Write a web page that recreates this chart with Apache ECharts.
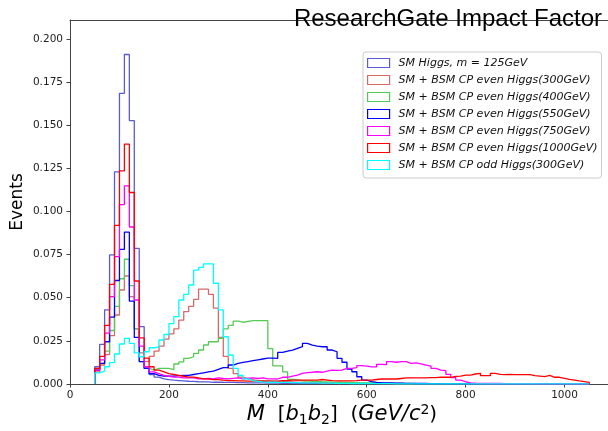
<!DOCTYPE html>
<html lang="en">
<head>
<meta charset="UTF-8">
<title>chart</title>
<script src="https://cdn.jsdelivr.net/npm/echarts@6/dist/echarts.min.js"></script>
<style>
  html, body { margin: 0; padding: 0; background: #fff; }
  #container { width: 608px; height: 431px; }
</style>
</head>
<body>
<div id="container"></div>
<script>
// histogram bins: 50 .. 1050 GeV, width 10
const binStart = 50
const binWidth = 10

const xTicks = [0, 200, 400, 600, 800, 1000]
const yTicks = [0, 0.025, 0.05, 0.075, 0.1, 0.125, 0.15, 0.175, 0.2]

const seriesNames = [
  'SM Higgs, m = 125GeV',
  'SM + BSM CP even Higgs(300GeV)',
  'SM + BSM CP even Higgs(400GeV)',
  'SM + BSM CP even Higgs(550GeV)',
  'SM + BSM CP even Higgs(750GeV)',
  'SM + BSM CP even Higgs(1000GeV)',
  'SM + BSM CP odd Higgs(300GeV)'
]
const seriesColors = ['#5b5bd8', '#d46a6a', '#55c955', '#0000ff', '#ff00ff', '#ff0000', '#00ffff']

const smHiggs = [
  0.010, 0.023, 0.043, 0.0748, 0.123, 0.1685, 0.191, 0.1527, 0.0786, 0.0333,
  0.0093, 0.0055, 0.004, 0.003, 0.0025, 0.0022, 0.002, 0.0018, 0.0016, 0.0015,
  0.0013, 0.0012, 0.0012, 0.001, 0.001, 0.001, 0.0009, 0.0009, 0.0008, 0.0008,
  0.0007, 0.0007, 0.0006, 0.0006, 0.0005, 0.0005, 0.0005, 0.0004, 0.0004, 0.0004,
  0.0003, 0.0003, 0.0003, 0.0003, 0.0003, 0.0003, 0.0003, 0.0003, 0.0002, 0.0002,
  0.0002, 0.0002, 0.0002, 0.0002, 0.0002, 0.0002, 0.0002, 0.0002, 0.0002, 0.0001,
  0.0001, 0.0001, 0.0001, 0.0001, 0.0001, 0.0001, 0.0001, 0.0001, 0.0001, 0.0001,
  0.0001, 0.0001, 0.0001, 0.0001, 0.0001, 0.0001, 0.0001, 0.0001, 0.0001, 0.0001,
  0.0001, 0.0001, 0.0001, 0.0001, 0.0001, 0.0001, 0.0001, 0.0001, 0.0001, 0.0001,
  0.0001, 0.0001, 0.0001, 0.0001, 0.0001, 0.0001, 0.0001, 0.0001, 0.0001, 0.0001
]
const even300 = [
  0.007, 0.011, 0.017, 0.028, 0.040, 0.0545, 0.0626, 0.0506, 0.032, 0.018,
  0.013, 0.016, 0.019, 0.022, 0.026, 0.029, 0.032, 0.037, 0.042, 0.045,
  0.049, 0.055, 0.055, 0.052, 0.044, 0.027, 0.016, 0.009, 0.006, 0.004,
  0.003, 0.0025, 0.002, 0.002, 0.0018, 0.0016, 0.0015, 0.0014, 0.0013, 0.0012,
  0.0011, 0.001, 0.001, 0.0009, 0.0009, 0.0008, 0.0008, 0.0007, 0.0007, 0.0006,
  0.0006, 0.0005, 0.0005, 0.0005, 0.0004, 0.0004, 0.0004, 0.0003, 0.0003, 0.0003,
  0.0003, 0.0003, 0.0002, 0.0002, 0.0002, 0.0002, 0.0002, 0.0002, 0.0002, 0.0002,
  0.0001, 0.0001, 0.0001, 0.0001, 0.0001, 0.0001, 0.0001, 0.0001, 0.0001, 0.0001,
  0.0001, 0.0001, 0.0001, 0.0001, 0.0001, 0.0001, 0.0001, 0.0001, 0.0001, 0.0001,
  0.0001, 0.0001, 0.0001, 0.0001, 0.0001, 0.0001, 0.0001, 0.0001, 0.0001, 0.0001
]
const even400 = [
  0.008, 0.012, 0.019, 0.031, 0.045, 0.061, 0.0723, 0.057, 0.032, 0.013,
  0.009, 0.008, 0.009, 0.009, 0.0091, 0.0083, 0.0116, 0.0128, 0.0148, 0.0158,
  0.0177, 0.0197, 0.0226, 0.0245, 0.0245, 0.0265, 0.032, 0.034, 0.0365, 0.0358,
  0.0363, 0.0367, 0.0367, 0.0367, 0.0367, 0.0205, 0.0105, 0.0105, 0.007, 0.0027,
  0.0024, 0.002, 0.0018, 0.0016, 0.0015, 0.0013, 0.0012, 0.0011, 0.001, 0.001,
  0.0009, 0.0008, 0.0008, 0.0007, 0.0006, 0.0006, 0.0005, 0.0005, 0.0004, 0.0004,
  0.0003, 0.0003, 0.0003, 0.0003, 0.0002, 0.0002, 0.0002, 0.0002, 0.0002, 0.0002,
  0.0001, 0.0001, 0.0001, 0.0001, 0.0001, 0.0001, 0.0001, 0.0001, 0.0001, 0.0001,
  0.0001, 0.0001, 0.0001, 0.0001, 0.0001, 0.0001, 0.0001, 0.0001, 0.0001, 0.0001,
  0.0001, 0.0001, 0.0001, 0.0001, 0.0001, 0.0001, 0.0001, 0.0001, 0.0001, 0.0001
]
const even550 = [
  0.008, 0.012, 0.0245, 0.0388, 0.060, 0.078, 0.088, 0.048, 0.027, 0.013,
  0.009, 0.006, 0.005, 0.0046, 0.0046, 0.0046, 0.0048, 0.005, 0.005, 0.0055,
  0.006, 0.0065, 0.007, 0.0075, 0.0085, 0.0095, 0.0095, 0.011, 0.012, 0.0125,
  0.013, 0.0135, 0.014, 0.0145, 0.015, 0.015, 0.0149, 0.0183, 0.0191, 0.0197,
  0.0207, 0.0216, 0.0236, 0.0226, 0.022, 0.0216, 0.0216, 0.0197, 0.0187, 0.0149,
  0.0126, 0.0087, 0.0071, 0.0042, 0.0023, 0.0014, 0.001, 0.0008, 0.0007, 0.0006,
  0.0005, 0.0005, 0.0004, 0.0004, 0.0003, 0.0003, 0.0003, 0.0002, 0.0002, 0.0002,
  0.0001, 0.0001, 0.0001, 0.0001, 0.0001, 0.0001, 0.0001, 0.0001, 0.0001, 0.0001,
  0.0001, 0.0001, 0.0001, 0.0001, 0.0001, 0.0001, 0.0001, 0.0001, 0.0001, 0.0001,
  0.0001, 0.0001, 0.0001, 0.0001, 0.0001, 0.0001, 0.0001, 0.0001, 0.0001, 0.0001
]
const even750 = [
  0.008, 0.014, 0.0295, 0.0506, 0.0738, 0.104, 0.1148, 0.091, 0.0487, 0.022,
  0.010, 0.007, 0.006, 0.005, 0.0045, 0.004, 0.004, 0.0035, 0.0035, 0.0035,
  0.003, 0.003, 0.0032, 0.003, 0.0035, 0.0032, 0.003, 0.0033, 0.0035, 0.003,
  0.0034, 0.0035, 0.0032, 0.0035, 0.003, 0.003, 0.0029, 0.0039, 0.0039, 0.0046,
  0.0052, 0.0062, 0.0066, 0.0068, 0.0071, 0.0068, 0.0075, 0.0081, 0.0079, 0.0081,
  0.0091, 0.0091, 0.0095, 0.0107, 0.0104, 0.0099, 0.0099, 0.0114, 0.0112, 0.013,
  0.0126, 0.013, 0.013, 0.012, 0.0122, 0.0116, 0.011, 0.0104, 0.0091, 0.0081,
  0.0077, 0.0056, 0.0037, 0.0023, 0.0013, 0.0007, 0.0005, 0.0004, 0.0004, 0.0003,
  0.0003, 0.0003, 0.0002, 0.0002, 0.0002, 0.0002, 0.0002, 0.0002, 0.0001, 0.0001,
  0.0001, 0.0001, 0.0001, 0.0001, 0.0001, 0.0001, 0.0001, 0.0001, 0.0001, 0.0001
]
const even1000 = [
  0.009, 0.016, 0.034, 0.0578, 0.092, 0.1235, 0.139, 0.111, 0.0597, 0.0267,
  0.015, 0.010, 0.008, 0.007, 0.006, 0.0055, 0.005, 0.0045, 0.004, 0.004,
  0.0035, 0.003, 0.003, 0.0025, 0.0025, 0.0022, 0.002, 0.002, 0.0018, 0.0018,
  0.0017, 0.0017, 0.0017, 0.0016, 0.0017, 0.0017, 0.0017, 0.002, 0.002, 0.0023,
  0.0023, 0.0023, 0.0023, 0.0023, 0.0023, 0.0026, 0.0023, 0.002, 0.0018, 0.0018,
  0.0018, 0.0018, 0.002, 0.0023, 0.0023, 0.0023, 0.0026, 0.0029, 0.0029, 0.0029,
  0.0029, 0.0032, 0.0035, 0.0035, 0.0035, 0.0035, 0.0035, 0.0037, 0.0037, 0.004,
  0.0039, 0.0039, 0.0044, 0.0046, 0.0052, 0.0052, 0.0058, 0.0062, 0.0048, 0.0048,
  0.0062, 0.0056, 0.0054, 0.0056, 0.0054, 0.0054, 0.0054, 0.0054, 0.0048, 0.0046,
  0.0043, 0.005, 0.0039, 0.0039, 0.0033, 0.0027, 0.0023, 0.0018, 0.0014, 0.001
]
const odd300 = [
  0.0064, 0.0075, 0.010, 0.0124, 0.0174, 0.0232, 0.0265, 0.0236, 0.018, 0.0158,
  0.0187, 0.021, 0.0215, 0.0255, 0.0287, 0.035, 0.039, 0.0487, 0.052, 0.0574,
  0.066, 0.0676, 0.0696, 0.0696, 0.0584, 0.043, 0.0274, 0.0168, 0.0091, 0.005,
  0.003, 0.002, 0.0015, 0.0012, 0.001, 0.001, 0.001, 0.0009, 0.0009, 0.0008,
  0.0008, 0.0007, 0.0007, 0.0006, 0.0006, 0.0005, 0.0005, 0.0005, 0.0004, 0.0004,
  0.0004, 0.0003, 0.0003, 0.0003, 0.0003, 0.0002, 0.0002, 0.0002, 0.0002, 0.0002,
  0.0001, 0.0001, 0.0001, 0.0001, 0.0001, 0.0001, 0.0001, 0.0001, 0.0001, 0.0001,
  0.0001, 0.0001, 0.0001, 0.0001, 0.0001, 0.0001, 0.0001, 0.0001, 0.0001, 0.0001,
  0.0001, 0.0001, 0.0001, 0.0001, 0.0001, 0.0001, 0.0001, 0.0001, 0.0001, 0.0001,
  0.0001, 0.0001, 0.0001, 0.0001, 0.0001, 0.0001, 0.0001, 0.0001, 0.0001, 0.0001
]
const seriesValues = [smHiggs, even300, even400, even550, even750, even1000, odd300]

// outline of a step histogram: up at first edge, across each bin, down at last edge
function stepPoints(vals) {
  const pts = [[binStart, 0]]
  vals.forEach((v, i) => pts.push([binStart + i * binWidth, v]))
  const end = binStart + vals.length * binWidth
  pts.push([end, vals[vals.length - 1]])
  pts.push([end, 0])
  return pts
}

const tickFont = { fontFamily: 'DejaVu Sans', fontSize: 10.5, color: '#222' }
const spine = { show: true, lineStyle: { color: '#444', width: 1 } }

const chart = echarts.init(document.getElementById('container'), null, { renderer: 'canvas' })
chart.setOption({
  animation: false,
  backgroundColor: '#fff',
  title: {
    text: 'ResearchGate Impact Factor',
    right: 1,
    top: 2,
    z: 10,
    textStyle: { fontFamily: 'Liberation Sans', fontSize: 24, fontWeight: 'normal', color: '#000' }
  },
  grid: { left: 70, right: -6, top: 20, bottom: 47, containLabel: false, outerBoundsMode: 'none' },
  legend: {
    orient: 'vertical',
    left: 363,
    top: 52,
    selectedMode: false,
    itemWidth: 22,
    itemHeight: 9,
    itemGap: 3,
    padding: [4, 4, 6, 4],
    backgroundColor: '#fff',
    borderColor: '#ccc',
    borderWidth: 1,
    borderRadius: 3,
    textStyle: {
      fontFamily: 'DejaVu Sans', fontStyle: 'italic', fontSize: 11,
      color: '#111', lineHeight: 14, padding: [0, 0, 0, 4]
    },
    data: seriesNames.map((n, i) => ({
      name: n,
      icon: 'rect',
      itemStyle: { color: '#fff', borderColor: seriesColors[i], borderWidth: 1.2 }
    }))
  },
  xAxis: [{
    type: 'value',
    min: 0,
    max: 1100,
    interval: 200,
    splitLine: { show: false },
    axisLine: spine,
    axisTick: { show: true, inside: false, length: 3.5, lineStyle: { color: '#444' }, customValues: xTicks },
    axisLabel: Object.assign({ margin: 6, customValues: xTicks, formatter: v => String(v) }, tickFont),
    name: '{i|M}  [{i|b}{sub|1}{i|b}{sub|2}]  ({i|GeV/c}{sup|2})',
    nameLocation: 'middle',
    nameGap: 19,
    nameMoveOverlap: false,
    nameTextStyle: {
      fontFamily: 'DejaVu Sans', fontSize: 20, color: '#000', verticalAlign: 'top',
      rich: {
        i: { fontFamily: 'DejaVu Sans', fontStyle: 'italic', fontSize: 21, color: '#000' },
        sub: { fontFamily: 'DejaVu Sans', fontSize: 14, color: '#000', padding: [10, 0, 0, 0] },
        sup: { fontFamily: 'DejaVu Sans', fontSize: 14, color: '#000', padding: [0, 0, 10, 0] }
      }
    }
  }, {
    type: 'value',
    position: 'top',
    min: 0,
    max: 1100,
    axisLine: spine,
    axisTick: { show: false },
    axisLabel: { show: false },
    splitLine: { show: false }
  }],
  yAxis: {
    type: 'value',
    min: 0,
    max: 0.211,
    interval: 0.025,
    splitLine: { show: false },
    axisLine: spine,
    axisTick: { show: true, inside: false, length: 3.5, lineStyle: { color: '#444' }, customValues: yTicks },
    axisLabel: Object.assign({ margin: 7, customValues: yTicks, formatter: v => v.toFixed(3) }, tickFont),
    name: 'Events',
    nameLocation: 'middle',
    nameGap: 44,
    nameMoveOverlap: false,
    nameTextStyle: { fontFamily: 'DejaVu Sans', fontSize: 17, color: '#000' }
  },
  series: seriesNames.map((n, i) => ({
    name: n,
    type: 'line',
    step: 'end',
    symbol: 'none',
    xAxisIndex: 0,
    color: seriesColors[i],
    lineStyle: { color: seriesColors[i], width: 1.3 },
    data: stepPoints(seriesValues[i])
  }))
})
</script>
</body>
</html>
